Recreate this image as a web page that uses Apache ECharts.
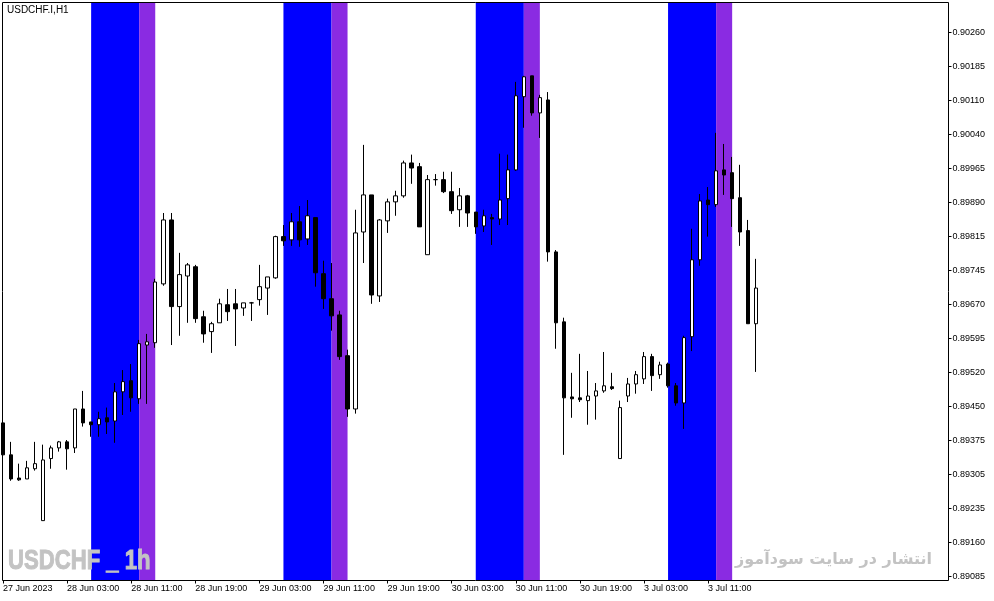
<!DOCTYPE html>
<html>
<head>
<meta charset="utf-8">
<script src="https://cdn.jsdelivr.net/npm/echarts@6/dist/echarts.min.js"></script>
<style>html,body{margin:0;padding:0;background:#fff;}#c{width:994px;height:601px;}</style>
</head>
<body>
<div id="c"></div>
<script>
// hourly sessions (day label, first hour, last hour); last two only pad the empty right side
const sessions = [['27 Jun', 19, 23], ['28 Jun', 0, 23], ['29 Jun', 0, 23], ['30 Jun', 0, 23], ['3 Jul', 0, 23], ['4 Jul', 0, 17]];
const categories = [];
sessions.forEach(([d, a, b]) => { for (let h = a; h <= b; h++) categories.push(d + ' ' + String(h).padStart(2, '0') + ':00'); });

const opens = [0.89417,0.89348,0.89298,0.89296,0.89318,0.89206,0.89340,0.89363,0.89376,0.89363,
0.89447,0.89419,0.89413,0.89428,0.89421,0.89484,0.89508,0.89469,0.89585,0.89590,
0.89717,0.89855,0.89668,0.89734,0.89754,0.89646,0.89614,0.89633,0.89672,0.89674,
0.89665,0.89676,0.89683,0.89708,0.89730,0.89819,0.89812,0.89851,0.89814,0.89860,
0.89739,0.89685,0.89650,0.89562,0.89447,0.89829,0.89909,0.89691,0.89853,0.89894,
0.89907,0.89978,0.89970,0.89780,0.89942,0.89942,0.89916,0.89877,0.89907,0.89872,
0.89842,0.89860,0.89857,0.89901,0.89963,0.90121,0.90166,0.90086,0.90114,0.89786,
0.89635,0.89473,0.89471,0.89465,0.89475,0.89486,0.89495,0.89340,0.89475,0.89501,
0.89512,0.89560,0.89521,0.89544,0.89497,0.89460,0.89603,0.89769,0.89898,0.89888,
0.89963,0.89957,0.89903,0.89832,0.89631];
const closes = [0.89348,0.89296,0.89294,0.89320,0.89329,0.89337,0.89363,0.89376,0.89361,0.89447,
0.89417,0.89413,0.89426,0.89419,0.89484,0.89506,0.89471,0.89588,0.89592,0.89721,
0.89855,0.89668,0.89737,0.89758,0.89642,0.89609,0.89631,0.89674,0.89657,0.89663,
0.89676,0.89676,0.89711,0.89732,0.89819,0.89810,0.89851,0.89812,0.89864,0.89741,
0.89685,0.89648,0.89560,0.89447,0.89827,0.89909,0.89693,0.89855,0.89894,0.89907,
0.89978,0.89967,0.89840,0.89942,0.89942,0.89916,0.89875,0.89907,0.89870,0.89840,
0.89864,0.89857,0.89898,0.89963,0.90123,0.90164,0.90086,0.90119,0.89786,0.89633,
0.89471,0.89469,0.89467,0.89475,0.89486,0.89497,0.89491,0.89450,0.89501,0.89521,
0.89560,0.89519,0.89542,0.89497,0.89460,0.89601,0.89769,0.89896,0.89888,0.89961,
0.89952,0.89901,0.89829,0.89631,0.89708];
const lows = [0.89337,0.89292,0.89292,0.89296,0.89314,0.89206,0.89318,0.89355,0.89316,0.89352,
0.89409,0.89387,0.89387,0.89393,0.89374,0.89434,0.89441,0.89458,0.89458,0.89579,
0.89713,0.89585,0.89605,0.89633,0.89633,0.89590,0.89568,0.89633,0.89637,0.89583,
0.89648,0.89637,0.89670,0.89650,0.89728,0.89799,0.89799,0.89797,0.89801,0.89711,
0.89663,0.89616,0.89553,0.89430,0.89437,0.89762,0.89674,0.89678,0.89827,0.89864,
0.89903,0.89933,0.89840,0.89780,0.89929,0.89913,0.89868,0.89840,0.89840,0.89825,
0.89829,0.89801,0.89844,0.89844,0.89961,0.90054,0.90080,0.90032,0.89765,0.89577,
0.89348,0.89428,0.89462,0.89413,0.89424,0.89482,0.89488,0.89340,0.89462,0.89480,
0.89501,0.89486,0.89512,0.89493,0.89454,0.89404,0.89572,0.89756,0.89819,0.89883,
0.89909,0.89840,0.89799,0.89631,0.89527];
const highs = [0.89434,0.89376,0.89329,0.89335,0.89376,0.89370,0.89368,0.89378,0.89380,0.89447,
0.89486,0.89419,0.89441,0.89450,0.89503,0.89531,0.89544,0.89596,0.89609,0.89728,
0.89870,0.89870,0.89784,0.89762,0.89758,0.89659,0.89635,0.89685,0.89706,0.89706,
0.89676,0.89678,0.89758,0.89732,0.89821,0.89844,0.89870,0.89885,0.89898,0.89860,
0.89767,0.89762,0.89659,0.89575,0.89877,0.90017,0.89909,0.89857,0.89901,0.89918,
0.89983,0.89996,0.89978,0.89952,0.89954,0.89959,0.89959,0.89924,0.89909,0.89872,
0.89877,0.89868,0.89998,0.89996,0.90153,0.90166,0.90166,0.90125,0.90131,0.89790,
0.89644,0.89525,0.89566,0.89529,0.89503,0.89570,0.89525,0.89465,0.89514,0.89529,
0.89570,0.89566,0.89549,0.89547,0.89503,0.89605,0.89836,0.89911,0.89926,0.90043,
0.90019,0.89991,0.89974,0.89855,0.89771];

const xTickLabels = ['27 Jun 2023','28 Jun 03:00','28 Jun 11:00','28 Jun 19:00','29 Jun 03:00','29 Jun 11:00',
'29 Jun 19:00','30 Jun 03:00','30 Jun 11:00','30 Jun 19:00','3 Jul 03:00','3 Jul 11:00'];
const yTickLabels = ['0.89085','0.89160','0.89235','0.89305','0.89375','0.89450','0.89520','0.89595','0.89670',
'0.89745','0.89815','0.89890','0.89965','0.90040','0.90110','0.90185','0.90260'];

const blueBands = [['28 Jun 06:00','28 Jun 12:00'],['29 Jun 06:00','29 Jun 12:00'],['30 Jun 06:00','30 Jun 12:00'],['3 Jul 06:00','3 Jul 12:00']];
const purpleBands = [['28 Jun 12:00','28 Jun 14:00'],['29 Jun 12:00','29 Jun 14:00'],['30 Jun 12:00','30 Jun 14:00'],['3 Jul 12:00','3 Jul 14:00']];

const yMin = 0.890768, yMax = 0.903243;
const yLo = Number(yTickLabels[0]), yHi = Number(yTickLabels[yTickLabels.length - 1]);
const yStep = (yHi - yLo) / (yTickLabels.length - 1);
const yTickValues = yTickLabels.map((_, k) => yLo + k * yStep);
const xEvery = 8;

const candleData = opens.map((o, i) => [o, closes[i], lows[i], highs[i]]);
const bandData = [];
blueBands.forEach(b => bandData.push({ value: [categories.indexOf(b[0]), categories.indexOf(b[1])], itemStyle: { color: '#0000ff' } }));
purpleBands.forEach(b => bandData.push({ value: [categories.indexOf(b[0]), categories.indexOf(b[1])], itemStyle: { color: '#8a2be2' } }));

const chart = echarts.init(document.getElementById('c'), null, { renderer: 'canvas' });
const labelFont = 'Liberation Sans';
const showX = (idx) => idx % xEvery === 0 && idx / xEvery < xTickLabels.length;

chart.setOption({
  animation: false,
  backgroundColor: '#fff',
  grid: { left: 2.5, top: 2.5, right: 45.5, bottom: 20.5, containLabel: false },
  xAxis: {
    type: 'category', data: categories, boundaryGap: false,
    axisLine: { show: false },
    axisTick: { show: true, length: 3, interval: (idx) => showX(idx), lineStyle: { color: '#000' } },
    axisLabel: {
      interval: (idx) => showX(idx), align: 'left', margin: 4,
      fontFamily: labelFont, fontSize: 9, color: '#000',
      formatter: (v) => xTickLabels[categories.indexOf(v) / xEvery]
    },
    splitLine: { show: false }
  },
  yAxis: {
    type: 'value', position: 'right', min: yMin, max: yMax, scale: true,
    axisLine: { show: false },
    axisTick: { show: true, length: 3, customValues: yTickValues, lineStyle: { color: '#000' } },
    axisLabel: {
      customValues: yTickValues, margin: 4, fontFamily: labelFont, fontSize: 9, color: '#000',
      formatter: (v) => yTickLabels[Math.round((v - yLo) / yStep)]
    },
    splitLine: { show: false }
  },
  series: [
    {
      type: 'custom', z: 1, silent: true, data: bandData,
      encode: { x: [0, 1] },
      renderItem: (params, api) => {
        const s = api.coord([api.value(0), yMax]);
        const e = api.coord([api.value(1), yMin]);
        return { type: 'rect', shape: { x: s[0], y: s[1], width: e[0] - s[0], height: e[1] - s[1] }, style: { fill: api.visual('color') } };
      }
    },
    {
      type: 'candlestick', z: 3, data: candleData, barWidth: 4, clip: true,
      itemStyle: { color: '#ffffff', color0: '#000000', borderColor: '#000000', borderColor0: '#000000', borderColorDoji: '#000000', borderWidth: 1 }
    }
  ],
  graphic: [
    { type: 'rect', z: 100, silent: true, shape: { x: 2.5, y: 2.5, width: 946, height: 578 }, style: { fill: null, stroke: '#000', lineWidth: 1 } },
    { type: 'text', z: 100, silent: true, x: 7, y: 5, style: { text: 'USDCHF.I,H1', fontSize: 10, fontFamily: 'Liberation Sans', fill: '#000', textAlign: 'left', textVerticalAlign: 'top', align: 'left', verticalAlign: 'top' } },
    { type: 'text', z: 100, silent: true, x: 8, y: 561, scaleX: 0.79, style: { text: 'USDCHF _ 1h', fontSize: 28, fontWeight: 'bold', fontFamily: 'Liberation Sans', fill: '#c3c3c3', stroke: '#c3c3c3', lineWidth: 1, textAlign: 'left', textVerticalAlign: 'middle', align: 'left', verticalAlign: 'middle' } },
    { type: 'text', z: 100, silent: true, x: 932, y: 560, style: { text: 'انتشار در سایت سودآموز', fontSize: 16, fontWeight: 'bold', fontFamily: 'DejaVu Sans', fill: '#c3c3c3', textAlign: 'right', textVerticalAlign: 'middle', align: 'right', verticalAlign: 'middle' } }
  ]
});
</script>
</body>
</html>
